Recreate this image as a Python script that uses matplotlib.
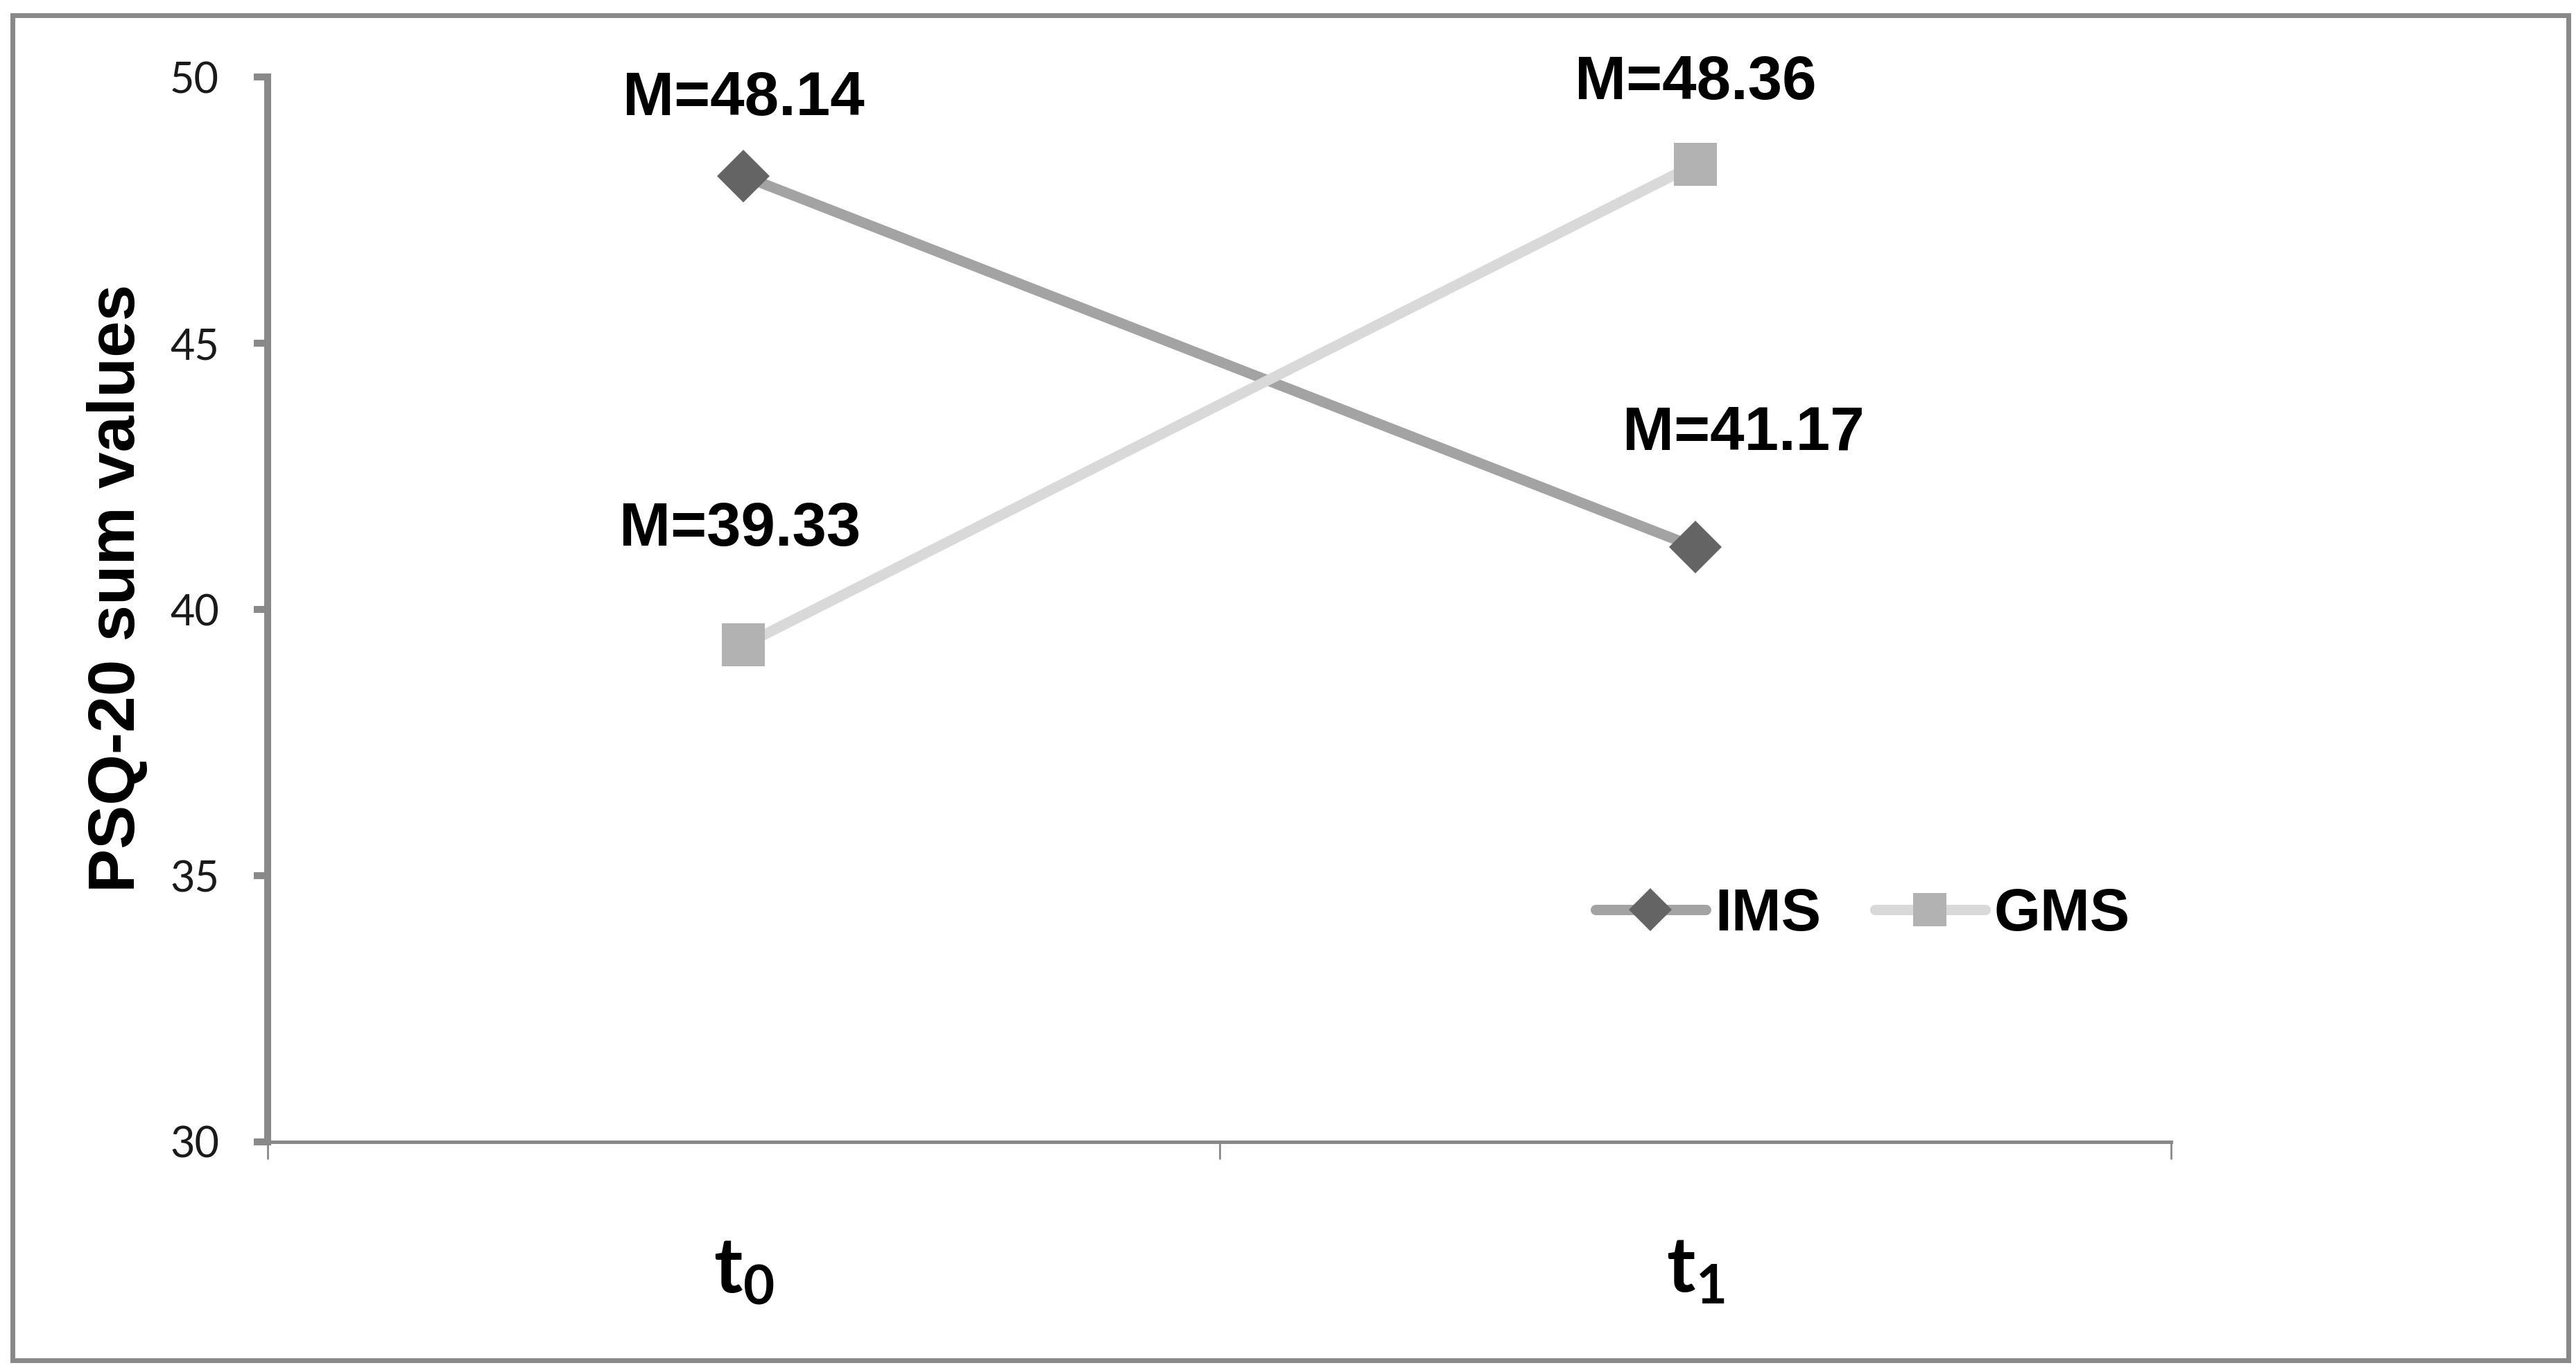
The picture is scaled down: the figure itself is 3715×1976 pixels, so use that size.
import matplotlib

matplotlib.use("Agg")

import matplotlib.pyplot as plt
from matplotlib.patches import Rectangle

# dados
momentos = [r"$\mathbf{t_0}$", r"$\mathbf{t_1}$"]
series = ["IMS", "GMS"]
ims = [48.14, 41.17]
gms = [39.33, 48.36]
y_ticks = [30, 35, 40, 45, 50]

plt.rcParams["mathtext.fontset"] = "custom"
plt.rcParams["mathtext.rm"] = "Lato"
plt.rcParams["mathtext.bf"] = "Lato:bold"

BOLD = {"family": "Liberation Sans", "weight": "bold", "color": "black"}
AXIS_GRAY = "#898989"

fig = plt.figure(figsize=(18.58, 9.88), dpi=200)
fig.patch.set_facecolor("white")
ax = fig.add_axes([0.1039, 0.1665, 0.7387, 0.7773])

x = list(range(len(momentos)))

ax.plot(
    x, ims, color="#A3A3A3", linewidth=5.4, marker="D", markersize=19.5,
    markerfacecolor="#646464", markeredgecolor="#646464", markeredgewidth=0,
    solid_capstyle="round", label=series[0], zorder=3,
)
ax.plot(
    x, gms, color="#D9D9D9", linewidth=5.4, marker="s", markersize=22,
    markerfacecolor="#B2B2B2", markeredgecolor="#B2B2B2", markeredgewidth=0,
    solid_capstyle="round", label=series[1], zorder=4,
)

# rótulos das médias
offsets = {
    (0, ims[0]): (0, 40),
    (1, ims[1]): (25, 59),
    (0, gms[0]): (-2, 60),
    (1, gms[1]): (0, 42),
}
for (xi, yi), (dx, dy) in offsets.items():
    ax.annotate(
        f"M={yi:.2f}", (xi, yi), xytext=(dx, dy), textcoords="offset points",
        ha="center", va="center", fontsize=32, **BOLD,
    )

ax.set_xlim(-0.5, 1.5)
ax.set_ylim(30, 50)
ax.set_yticks(y_ticks)
ax.set_yticklabels([str(v) for v in y_ticks], fontsize=22, fontname="Lato", color="#1a1a1a")

ax.set_xticks([-0.5, 0.5, 1.5])
ax.set_xticklabels([])
ax.set_xticks(x, minor=True)
ax.set_xticklabels(momentos, minor=True, fontsize=40, color="black")
ax.tick_params(axis="x", which="minor", length=0, pad=48)
ax.tick_params(axis="x", which="major", length=9, width=1.0, color=AXIS_GRAY, direction="out")
ax.tick_params(axis="y", length=7.2, width=3.6, color=AXIS_GRAY, direction="out", pad=18)

ax.spines["top"].set_visible(False)
ax.spines["right"].set_visible(False)
ax.spines["left"].set_color(AXIS_GRAY)
ax.spines["left"].set_linewidth(3.6)
ax.spines["bottom"].set_color(AXIS_GRAY)
ax.spines["bottom"].set_linewidth(1.8)

fig.text(
    0.0455, 0.5709, "PSQ-20 sum values", rotation=90,
    ha="center", va="center", fontsize=34, **BOLD,
)

ax.legend(
    loc="center",
    bbox_to_anchor=(0.838, 0.213),
    ncol=2,
    frameon=False,
    prop={"family": "Liberation Sans", "weight": "bold", "size": 31},
    handlelength=1.85,
    handletextpad=0.15,
    columnspacing=0.9,
    markerscale=0.8,
    borderpad=0,
)

# moldura externa
fig.patches.append(
    Rectangle(
        (18 / 3716, 14 / 1976), 3686 / 3716, 1940 / 1976,
        transform=fig.transFigure, fill=False, edgecolor="#888888", linewidth=2.5,
    )
)

fig.savefig("out.png", dpi=200, facecolor="white")
plt.close(fig)
